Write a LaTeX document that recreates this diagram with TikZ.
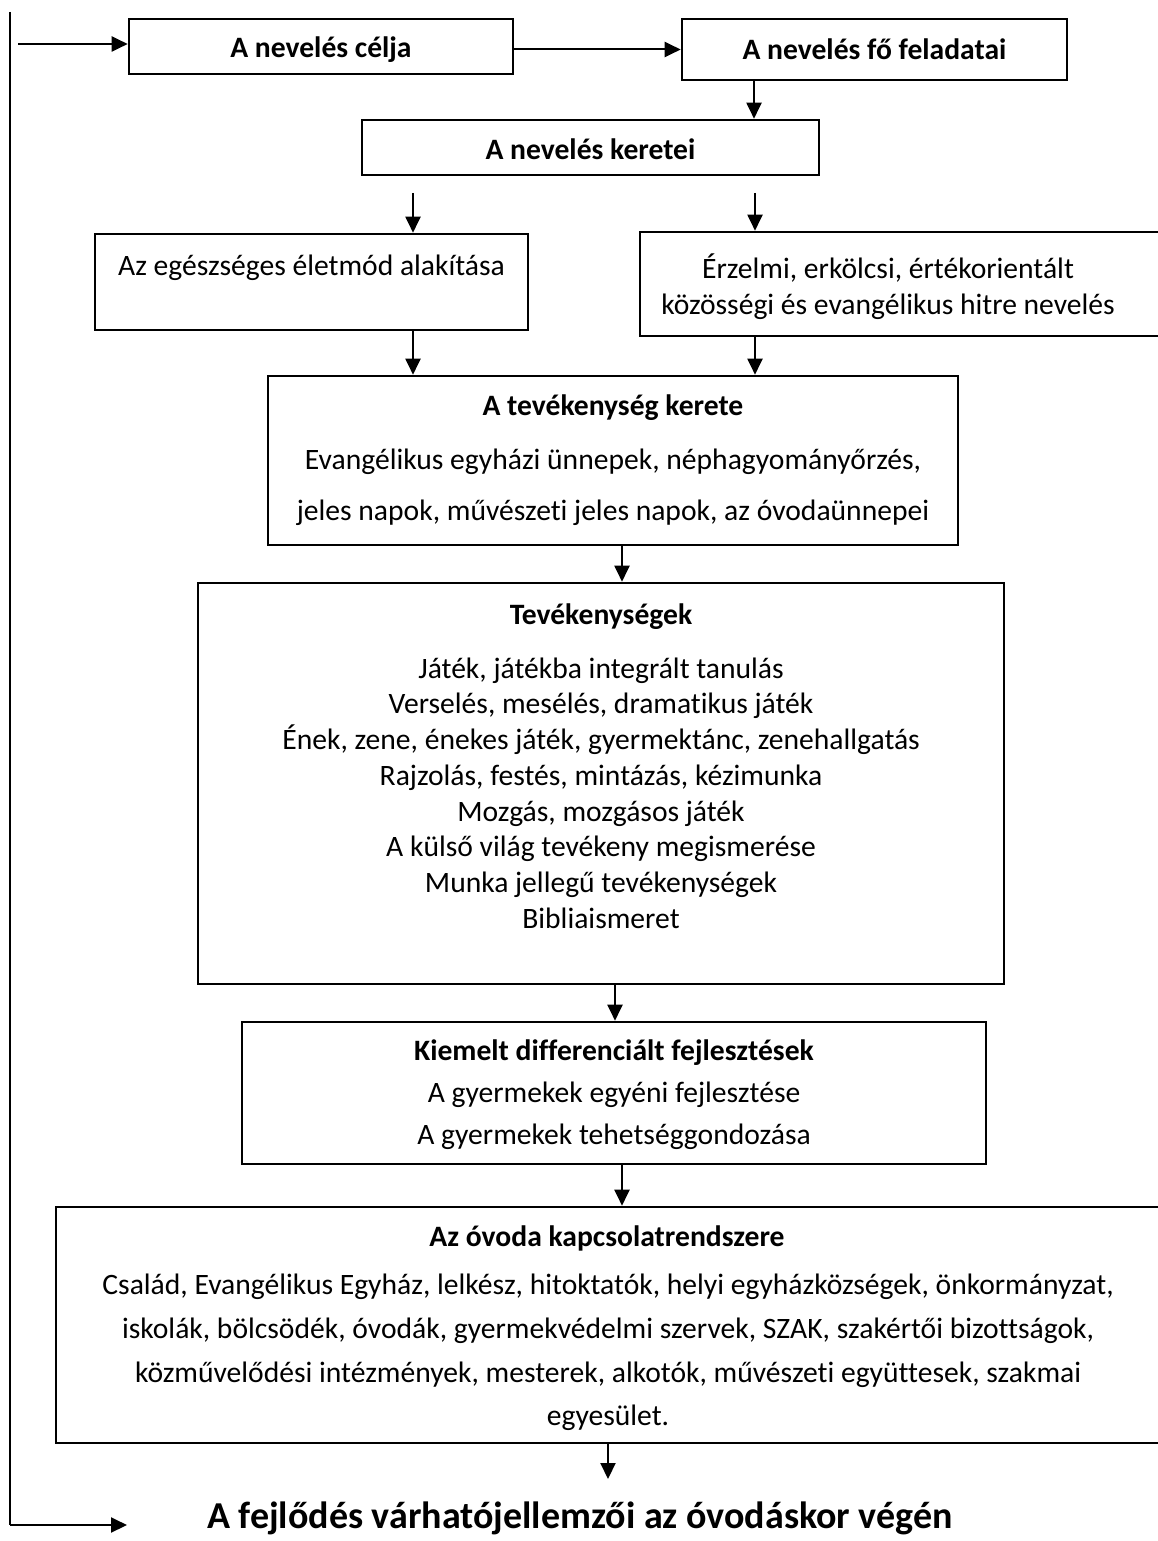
\documentclass[tikz,border=0pt]{standalone}
\usepackage{fontspec}
\setmainfont{Carlito}[Ligatures=NoCommon]
\usetikzlibrary{arrows.meta}
\begin{document}
\begin{tikzpicture}[x=1pt,y=-1pt,
  box/.style={draw, line width=2.6pt, rectangle, inner sep=0pt},
  hbox/.style={box, font=\fontsize{29.6}{35.7}\selectfont\bfseries, text depth=0pt},
  arr/.style={line width=2pt, -{Triangle[length=16pt,width=15pt]}},
  plain/.style={line width=2pt},
  txt/.style={inner sep=0pt, align=center, font=\fontsize{29.6}{35.7}\selectfont},
  ttl/.style={inner sep=0pt, align=center, font=\fontsize{29.6}{35.7}\selectfont\bfseries},
  bigttl/.style={inner sep=0pt, align=center, font=\fontsize{38}{42}\selectfont\bfseries}]
\useasboundingbox (0,0) rectangle (1157,1541);

% boxes
\node[hbox, text height=23pt, minimum width=384pt, minimum height=55pt] (b1) at (321,46.5) {A nevelés célja};
\node[hbox, text height=20pt, minimum width=385pt, minimum height=61pt] (b2) at (874.5,49.5) {A nevelés fő feladatai};
\node[hbox, text height=25pt, minimum width=457pt, minimum height=55pt] (b3) at (590.5,147.5) {A nevelés keretei};
\node[box, minimum width=433pt, minimum height=96pt] (b4) at (311.5,282) {};
\node[box, minimum width=520pt, minimum height=104pt] (b5) at (900,284) {};
\node[box, minimum width=690pt, minimum height=169pt] (b6) at (613,460.5) {};
\node[box, minimum width=806pt, minimum height=401pt] (b7) at (601,783.5) {};
\node[box, minimum width=744pt, minimum height=142pt] (b8) at (614,1093) {};
\node[box, minimum width=1104pt, minimum height=236pt] (b9) at (608,1325) {};

% texts
\node[txt] (t4) at (311.5,268) {Az egészséges életmód alakítása};
\node[txt] (t5) at (888,287) {Érzelmi, erkölcsi, értékorientált\\közösségi és evangélikus hitre nevelés};
\node[ttl] (t6a) at (613,408) {A tevékenység kerete};
\node[txt, font=\fontsize{29.6}{51}\selectfont] (t6b) at (613,487.5) {Evangélikus egyházi ünnepek, néphagyományőrzés,\\jeles napok, művészeti jeles napok, az óvodaünnepei};
\node[ttl] (t7a) at (601,617) {Tevékenységek};
\node[txt] (t7b) at (601,793) {Játék, játékba integrált tanulás\\Verselés, mesélés, dramatikus játék\\Ének, zene, énekes játék, gyermektánc, zenehallgatás\\Rajzolás, festés, mintázás, kézimunka\\Mozgás, mozgásos játék\\A külső világ tevékeny megismerése\\Munka jellegű tevékenységek\\Bibliaismeret};
\node[ttl] (t8a) at (614,1053) {Kiemelt differenciált fejlesztések};
\node[txt, font=\fontsize{29.6}{42}\selectfont] (t8b) at (614,1116) {A gyermekek egyéni fejlesztése\\A gyermekek tehetséggondozása};
\node[ttl] (t9a) at (607,1238) {Az óvoda kapcsolatrendszere};
\node[txt, font=\fontsize{29.6}{43.7}\selectfont] (t9b) at (608,1352.5) {Család, Evangélikus Egyház, lelkész, hitoktatók, helyi egyházközségek, önkormányzat,\\iskolák, bölcsödék, óvodák, gyermekvédelmi szervek, SZAK, szakértői bizottságok,\\közművelődési intézmények, mesterek, alkotók, művészeti együttesek, szakmai\\egyesület.};
\node[bigttl] (fin) at (580,1518) {A fejlődés várhatójellemzői az óvodáskor végén};

% free coordinates
\coordinate (tl) at (10,12);
\coordinate (bl) at (10,1525);
\coordinate (fend) at (127,1525);
\coordinate (ts) at (18,44);
\coordinate (s4) at (413,193);
\coordinate (s5) at (755,193);
\coordinate (e9) at (608,1479);

% connectors
\draw[plain] (tl) -- (bl);
\draw[arr] (bl) -- (fend);
\draw[arr] (ts) -- (ts -| b1.west);
\draw[arr] (b1.east |- b2.west) -- (b2.west);
\draw[arr] (b2.south -| 754,0) -- (b3.north -| 754,0);
\draw[arr] (s4) -- (s4 |- b4.north);
\draw[arr] (s5) -- (s5 |- b5.north);
\draw[arr] (b4.south -| 413,0) -- (b6.north -| 413,0);
\draw[arr] (b5.south -| 755,0) -- (b6.north -| 755,0);
\draw[arr] (b6.south -| 622,0) -- (b7.north -| 622,0);
\draw[arr] (b7.south -| 615,0) -- (b8.north -| 615,0);
\draw[arr] (b8.south -| 622,0) -- (b9.north -| 622,0);
\draw[arr] (b9.south -| e9) -- (e9);
\end{tikzpicture}
\end{document}
